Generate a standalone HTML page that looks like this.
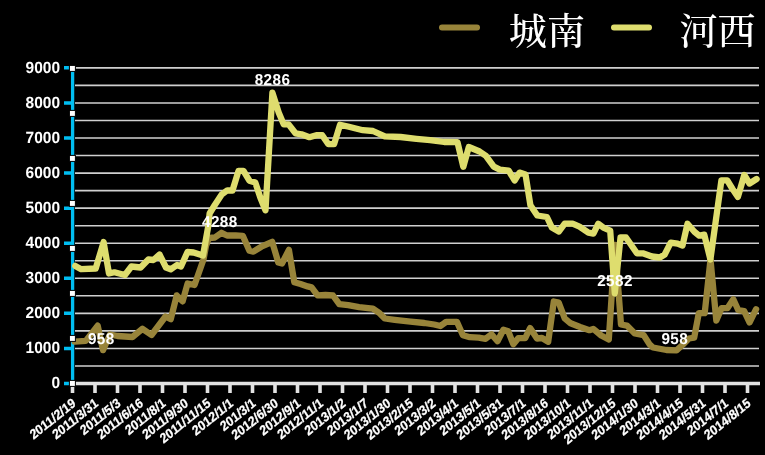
<!DOCTYPE html><html><head><meta charset="utf-8"><style>html,body{margin:0;padding:0;background:#000;}body{width:765px;height:455px;overflow:hidden;position:relative;}svg{position:absolute;left:0;top:0;display:block}.t{font-family:"Liberation Sans",Arial,sans-serif;font-weight:bold;fill:#fff;text-rendering:geometricPrecision}.cj{font-family:"Liberation Serif","Noto Serif CJK SC",serif;font-weight:500;fill:#fff}</style></head><body>
<svg width="765" height="455" viewBox="0 0 765 455">
<rect width="765" height="455" fill="#000"/>
<path d="M75 365.96H759M75 348.43H759M75 330.89H759M75 313.36H759M75 295.82H759M75 278.29H759M75 260.75H759M75 243.22H759M75 225.69H759M75 208.15H759M75 190.61H759M75 173.08H759M75 155.54H759M75 138.01H759M75 120.48H759M75 102.94H759M75 85.40H759M75 67.87H759" stroke="#cfcfcf" stroke-width="1.6" fill="none"/>
<path d="M71 383.5H760" stroke="#e2e2e2" stroke-width="3.6"/>
<path d="M72.50 383.5V393M95.00 383.5V393M117.50 383.5V393M140.00 383.5V393M162.50 383.5V393M185.00 383.5V393M207.50 383.5V393M230.00 383.5V393M252.50 383.5V393M275.00 383.5V393M297.50 383.5V393M320.00 383.5V393M342.50 383.5V393M365.00 383.5V393M387.50 383.5V393M410.00 383.5V393M432.50 383.5V393M455.00 383.5V393M477.50 383.5V393M500.00 383.5V393M522.50 383.5V393M545.00 383.5V393M567.50 383.5V393M590.00 383.5V393M612.50 383.5V393M635.00 383.5V393M657.50 383.5V393M680.00 383.5V393M702.50 383.5V393M725.00 383.5V393M747.50 383.5V393" stroke="#e2e2e2" stroke-width="3.6"/>
<path d="M72.6 66V386" stroke="#00bef2" stroke-width="3.3"/>
<path d="M64 383.50H72.6M64 348.43H72.6M64 313.36H72.6M64 278.29H72.6M64 243.22H72.6M64 208.15H72.6M64 173.08H72.6M64 138.01H72.6M64 102.94H72.6M64 67.87H72.6" stroke="#00bef2" stroke-width="3.5"/>
<polyline points="74.6,341.6 85.8,340.9 97.7,325.7 103.0,350.1 110.0,334.5 117.5,336.0 132.5,337.0 142.5,328.8 151.5,335.0 165.5,316.5 170.8,319.1 176.7,295.4 182.6,301.3 187.6,283.5 194.5,285.0 203.5,259.5 206.0,246.0 209.0,238.0 214.8,237.5 221.5,232.8 227.0,235.5 235.6,235.4 242.8,235.8 249.4,250.7 253.4,251.6 261.3,246.7 272.2,241.8 278.3,262.5 282.0,263.5 288.9,249.8 294.3,282.3 300.5,284.0 307.7,286.4 311.6,287.4 317.6,295.3 325.5,295.0 333.0,295.5 339.3,304.2 348.2,305.2 359.1,307.1 368.0,308.1 372.9,308.7 378.8,312.6 384.8,318.5 394.7,319.8 410.5,321.6 424.3,323.0 434.2,324.5 440.5,326.0 446.1,321.9 456.9,321.8 462.9,335.3 469.8,337.2 478.7,337.6 485.6,338.8 491.5,334.3 497.5,341.2 503.4,329.7 508.3,331.3 513.3,344.2 518.2,338.2 525.2,338.2 530.1,328.0 537.0,338.5 542.0,338.0 548.2,341.8 553.8,301.5 558.7,302.5 564.7,318.3 570.6,323.3 580.1,327.0 589.4,330.2 593.3,328.9 601.2,335.5 608.8,339.5 615.0,245.0 621.0,324.5 626.9,325.6 634.8,333.5 643.7,335.1 649.6,344.4 653.0,347.5 666.4,350.0 676.5,350.3 683.0,344.5 688.9,338.5 694.2,337.6 698.8,313.2 704.7,313.2 710.5,259.5 716.3,320.5 721.5,308.2 727.4,308.2 733.3,299.3 738.3,310.2 744.2,311.2 749.5,322.5 756.1,309.2" fill="none" stroke="#98843a" stroke-width="6.3" stroke-linejoin="round" stroke-linecap="round"/>
<polyline points="75.3,265.9 81.2,269.2 95.7,268.5 103.6,242.1 109.0,273.5 114.4,272.3 124.9,275.0 131.4,266.5 140.6,267.5 148.4,259.5 153.5,260.0 159.5,254.5 166.0,267.5 170.7,269.3 177.0,265.0 181.0,266.5 187.5,252.0 193.5,252.5 203.0,255.5 208.3,226.0 209.6,213.5 214.8,205.0 221.7,194.5 227.4,190.3 232.5,190.5 238.5,170.8 243.5,170.8 249.4,180.7 255.3,182.6 260.3,197.5 265.5,210.3 272.4,92.7 278.7,112.5 283.7,124.4 288.6,124.4 295.5,133.3 301.5,134.3 309.4,137.2 316.3,135.2 322.2,135.2 328.2,144.1 334.1,144.1 340.0,124.8 347.9,126.5 355.8,128.5 362.8,130.2 373.0,131.0 384.8,136.4 400.6,137.0 416.4,138.8 430.2,140.2 444.1,142.0 457.5,142.2 463.3,166.8 468.8,147.0 479.6,151.5 485.9,155.8 493.8,166.6 499.8,169.6 508.7,170.6 514.6,180.5 519.5,172.6 525.5,174.5 530.4,205.2 537.3,215.5 546.9,217.0 551.9,227.6 558.8,231.6 564.7,223.7 572.6,223.7 579.5,226.6 588.4,232.6 593.4,233.6 598.3,223.7 603.3,227.6 610.2,230.6 614.8,293.3 620.5,237.5 626.0,237.5 636.9,253.3 642.8,253.3 651.9,256.5 659.8,257.5 664.7,254.5 670.7,242.6 677.6,243.6 682.5,245.6 687.5,223.8 694.4,231.8 699.3,235.7 704.3,234.7 710.4,259.5 721.4,180.4 727.3,180.4 732.5,189.0 737.9,196.9 744.3,175.0 749.5,183.5 756.6,179.0" fill="none" stroke="#dedd6e" stroke-width="6.3" stroke-linejoin="round" stroke-linecap="round"/>
<rect x="69.4" y="65.4" width="6" height="6" fill="#fff" stroke="#000" stroke-width="1"/>
<rect x="69.4" y="110.4" width="6" height="6" fill="#fff" stroke="#000" stroke-width="1"/>
<rect x="69.4" y="155.4" width="6" height="6" fill="#fff" stroke="#000" stroke-width="1"/>
<rect x="69.4" y="200.4" width="6" height="6" fill="#fff" stroke="#000" stroke-width="1"/>
<rect x="69.4" y="245.4" width="6" height="6" fill="#fff" stroke="#000" stroke-width="1"/>
<rect x="69.4" y="290.4" width="6" height="6" fill="#fff" stroke="#000" stroke-width="1"/>
<rect x="69.4" y="335.4" width="6" height="6" fill="#fff" stroke="#000" stroke-width="1"/>
<rect x="69.4" y="380.4" width="6" height="6" fill="#fff" stroke="#000" stroke-width="1"/>
<text class="t" x="0" y="0" font-size="15.5" text-anchor="end" transform="translate(60 388.4) scale(1 1.05)">0</text>
<text class="t" x="0" y="0" font-size="15.5" text-anchor="end" transform="translate(60 353.3) scale(1 1.05)">1000</text>
<text class="t" x="0" y="0" font-size="15.5" text-anchor="end" transform="translate(60 318.3) scale(1 1.05)">2000</text>
<text class="t" x="0" y="0" font-size="15.5" text-anchor="end" transform="translate(60 283.2) scale(1 1.05)">3000</text>
<text class="t" x="0" y="0" font-size="15.5" text-anchor="end" transform="translate(60 248.1) scale(1 1.05)">4000</text>
<text class="t" x="0" y="0" font-size="15.5" text-anchor="end" transform="translate(60 213.1) scale(1 1.05)">5000</text>
<text class="t" x="0" y="0" font-size="15.5" text-anchor="end" transform="translate(60 178.0) scale(1 1.05)">6000</text>
<text class="t" x="0" y="0" font-size="15.5" text-anchor="end" transform="translate(60 142.9) scale(1 1.05)">7000</text>
<text class="t" x="0" y="0" font-size="15.5" text-anchor="end" transform="translate(60 107.8) scale(1 1.05)">8000</text>
<text class="t" x="0" y="0" font-size="15.5" text-anchor="end" transform="translate(60 72.8) scale(1 1.05)">9000</text>
<text class="t" x="0" y="0" font-size="15.3" letter-spacing="0.4" text-anchor="middle" transform="translate(101.3 343.9) scale(1 1.03)">958</text>
<text class="t" x="0" y="0" font-size="15.3" letter-spacing="0.4" text-anchor="middle" transform="translate(219.8 226.6) scale(1 1.03)">4288</text>
<text class="t" x="0" y="0" font-size="15.3" letter-spacing="0.4" text-anchor="middle" transform="translate(272.5 84.8) scale(1 1.03)">8286</text>
<text class="t" x="0" y="0" font-size="15.3" letter-spacing="0.4" text-anchor="middle" transform="translate(615 285.6) scale(1 1.03)">2582</text>
<text class="t" x="0" y="0" font-size="15.3" letter-spacing="0.4" text-anchor="middle" transform="translate(674.8 343.9) scale(1 1.03)">958</text>
<text class="t" x="0" y="0" font-weight="normal" stroke="#fff" stroke-width="0.25" font-size="12" letter-spacing="0" text-anchor="end" transform="translate(76.5 405.2) scale(1 1.14) rotate(-35.2)">2011/2/19</text>
<text class="t" x="0" y="0" font-weight="normal" stroke="#fff" stroke-width="0.25" font-size="12" letter-spacing="0" text-anchor="end" transform="translate(99.0 405.2) scale(1 1.14) rotate(-35.2)">2011/3/31</text>
<text class="t" x="0" y="0" font-weight="normal" stroke="#fff" stroke-width="0.25" font-size="12" letter-spacing="0" text-anchor="end" transform="translate(121.5 405.2) scale(1 1.14) rotate(-35.2)">2011/5/3</text>
<text class="t" x="0" y="0" font-weight="normal" stroke="#fff" stroke-width="0.25" font-size="12" letter-spacing="0" text-anchor="end" transform="translate(144.0 405.2) scale(1 1.14) rotate(-35.2)">2011/6/16</text>
<text class="t" x="0" y="0" font-weight="normal" stroke="#fff" stroke-width="0.25" font-size="12" letter-spacing="0" text-anchor="end" transform="translate(166.5 405.2) scale(1 1.14) rotate(-35.2)">2011/8/1</text>
<text class="t" x="0" y="0" font-weight="normal" stroke="#fff" stroke-width="0.25" font-size="12" letter-spacing="0" text-anchor="end" transform="translate(189.0 405.2) scale(1 1.14) rotate(-35.2)">2011/9/30</text>
<text class="t" x="0" y="0" font-weight="normal" stroke="#fff" stroke-width="0.25" font-size="12" letter-spacing="0" text-anchor="end" transform="translate(211.5 405.2) scale(1 1.14) rotate(-35.2)">2011/11/15</text>
<text class="t" x="0" y="0" font-weight="normal" stroke="#fff" stroke-width="0.25" font-size="12" letter-spacing="0" text-anchor="end" transform="translate(234.0 405.2) scale(1 1.14) rotate(-35.2)">2012/1/1</text>
<text class="t" x="0" y="0" font-weight="normal" stroke="#fff" stroke-width="0.25" font-size="12" letter-spacing="0" text-anchor="end" transform="translate(256.5 405.2) scale(1 1.14) rotate(-35.2)">201/3/1</text>
<text class="t" x="0" y="0" font-weight="normal" stroke="#fff" stroke-width="0.25" font-size="12" letter-spacing="0" text-anchor="end" transform="translate(279.0 405.2) scale(1 1.14) rotate(-35.2)">2012/6/30</text>
<text class="t" x="0" y="0" font-weight="normal" stroke="#fff" stroke-width="0.25" font-size="12" letter-spacing="0" text-anchor="end" transform="translate(301.5 405.2) scale(1 1.14) rotate(-35.2)">2012/9/1</text>
<text class="t" x="0" y="0" font-weight="normal" stroke="#fff" stroke-width="0.25" font-size="12" letter-spacing="0" text-anchor="end" transform="translate(324.0 405.2) scale(1 1.14) rotate(-35.2)">2012/11/1</text>
<text class="t" x="0" y="0" font-weight="normal" stroke="#fff" stroke-width="0.25" font-size="12" letter-spacing="0" text-anchor="end" transform="translate(346.5 405.2) scale(1 1.14) rotate(-35.2)">2013/1/2</text>
<text class="t" x="0" y="0" font-weight="normal" stroke="#fff" stroke-width="0.25" font-size="12" letter-spacing="0" text-anchor="end" transform="translate(369.0 405.2) scale(1 1.14) rotate(-35.2)">2013/1/7</text>
<text class="t" x="0" y="0" font-weight="normal" stroke="#fff" stroke-width="0.25" font-size="12" letter-spacing="0" text-anchor="end" transform="translate(391.5 405.2) scale(1 1.14) rotate(-35.2)">2013/1/30</text>
<text class="t" x="0" y="0" font-weight="normal" stroke="#fff" stroke-width="0.25" font-size="12" letter-spacing="0" text-anchor="end" transform="translate(414.0 405.2) scale(1 1.14) rotate(-35.2)">2013/2/15</text>
<text class="t" x="0" y="0" font-weight="normal" stroke="#fff" stroke-width="0.25" font-size="12" letter-spacing="0" text-anchor="end" transform="translate(436.5 405.2) scale(1 1.14) rotate(-35.2)">2013/3/2</text>
<text class="t" x="0" y="0" font-weight="normal" stroke="#fff" stroke-width="0.25" font-size="12" letter-spacing="0" text-anchor="end" transform="translate(459.0 405.2) scale(1 1.14) rotate(-35.2)">2013/4/1</text>
<text class="t" x="0" y="0" font-weight="normal" stroke="#fff" stroke-width="0.25" font-size="12" letter-spacing="0" text-anchor="end" transform="translate(481.5 405.2) scale(1 1.14) rotate(-35.2)">2013/5/1</text>
<text class="t" x="0" y="0" font-weight="normal" stroke="#fff" stroke-width="0.25" font-size="12" letter-spacing="0" text-anchor="end" transform="translate(504.0 405.2) scale(1 1.14) rotate(-35.2)">2013/5/31</text>
<text class="t" x="0" y="0" font-weight="normal" stroke="#fff" stroke-width="0.25" font-size="12" letter-spacing="0" text-anchor="end" transform="translate(526.5 405.2) scale(1 1.14) rotate(-35.2)">2013/7/1</text>
<text class="t" x="0" y="0" font-weight="normal" stroke="#fff" stroke-width="0.25" font-size="12" letter-spacing="0" text-anchor="end" transform="translate(549.0 405.2) scale(1 1.14) rotate(-35.2)">2013/8/16</text>
<text class="t" x="0" y="0" font-weight="normal" stroke="#fff" stroke-width="0.25" font-size="12" letter-spacing="0" text-anchor="end" transform="translate(571.5 405.2) scale(1 1.14) rotate(-35.2)">2013/10/1</text>
<text class="t" x="0" y="0" font-weight="normal" stroke="#fff" stroke-width="0.25" font-size="12" letter-spacing="0" text-anchor="end" transform="translate(594.0 405.2) scale(1 1.14) rotate(-35.2)">2013/11/1</text>
<text class="t" x="0" y="0" font-weight="normal" stroke="#fff" stroke-width="0.25" font-size="12" letter-spacing="0" text-anchor="end" transform="translate(616.5 405.2) scale(1 1.14) rotate(-35.2)">2013/12/15</text>
<text class="t" x="0" y="0" font-weight="normal" stroke="#fff" stroke-width="0.25" font-size="12" letter-spacing="0" text-anchor="end" transform="translate(639.0 405.2) scale(1 1.14) rotate(-35.2)">2014/1/30</text>
<text class="t" x="0" y="0" font-weight="normal" stroke="#fff" stroke-width="0.25" font-size="12" letter-spacing="0" text-anchor="end" transform="translate(661.5 405.2) scale(1 1.14) rotate(-35.2)">2014/3/1</text>
<text class="t" x="0" y="0" font-weight="normal" stroke="#fff" stroke-width="0.25" font-size="12" letter-spacing="0" text-anchor="end" transform="translate(684.0 405.2) scale(1 1.14) rotate(-35.2)">2014/4/15</text>
<text class="t" x="0" y="0" font-weight="normal" stroke="#fff" stroke-width="0.25" font-size="12" letter-spacing="0" text-anchor="end" transform="translate(706.5 405.2) scale(1 1.14) rotate(-35.2)">2014/5/31</text>
<text class="t" x="0" y="0" font-weight="normal" stroke="#fff" stroke-width="0.25" font-size="12" letter-spacing="0" text-anchor="end" transform="translate(729.0 405.2) scale(1 1.14) rotate(-35.2)">2014/7/1</text>
<text class="t" x="0" y="0" font-weight="normal" stroke="#fff" stroke-width="0.25" font-size="12" letter-spacing="0" text-anchor="end" transform="translate(751.5 405.2) scale(1 1.14) rotate(-35.2)">2014/8/15</text>
<path d="M442 27.6H477" stroke="#98843a" stroke-width="6" stroke-linecap="round"/>
<path d="M614 27.6H649" stroke="#dedd6e" stroke-width="6" stroke-linecap="round"/>
<text class="cj" x="0" y="0" font-size="37" transform="translate(508.8 44.6) scale(1.03 1)">城南</text>
<text class="cj" x="0" y="0" font-size="37" transform="translate(679.5 44.6) scale(1.03 1)">河西</text>
</svg></body></html>
